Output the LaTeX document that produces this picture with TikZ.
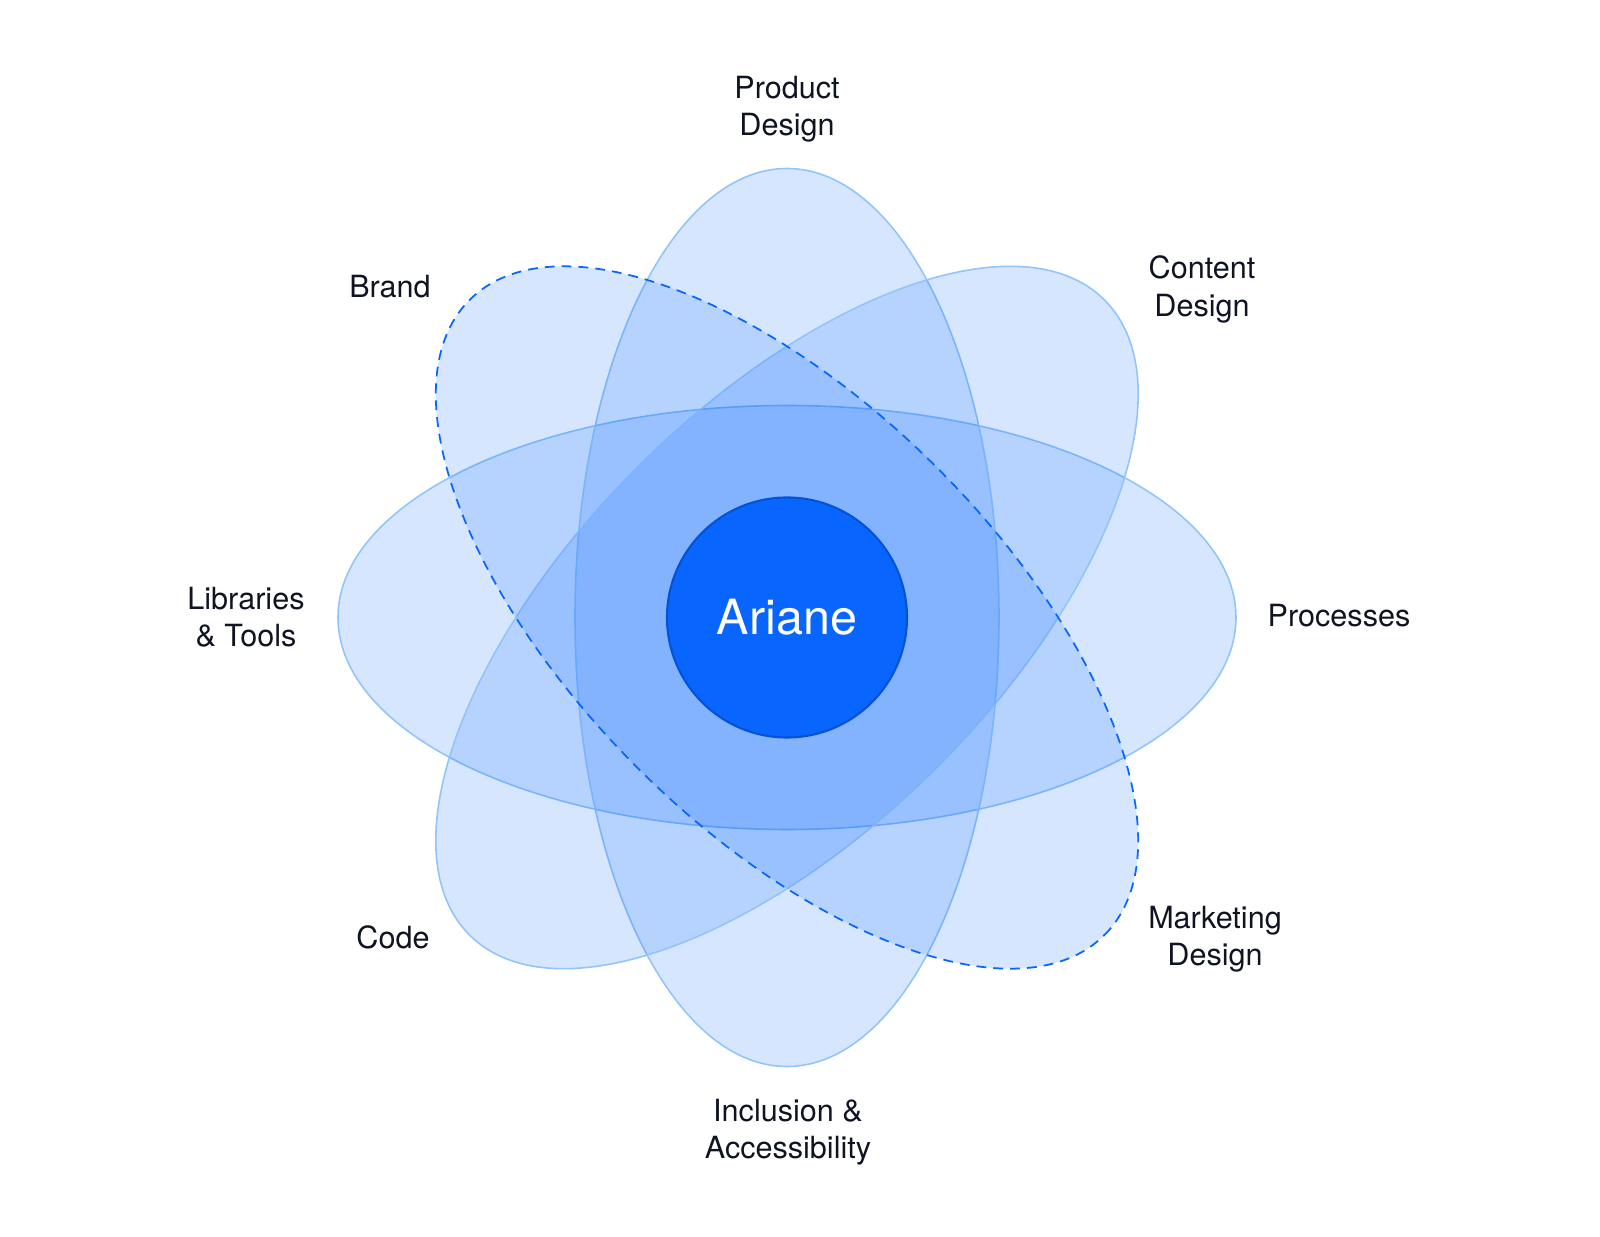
\documentclass[tikz,border=0pt]{standalone}
\usepackage{fontspec}
\setmainfont{TeX Gyre Heros}
\usetikzlibrary{shapes}
\definecolor{arblue}{RGB}{8,102,255}
\definecolor{arrim}{RGB}{6,82,214}
\definecolor{petal}{RGB}{146,196,251}
\definecolor{ink}{RGB}{16,20,34}

\begin{document}
\begin{tikzpicture}[lbl/.style={align=center,text=ink,font=\fontsize{8.7}{10.6}\selectfont}]
	\useasboundingbox (-7.87,-6.185) rectangle (8.13,6.175);

	\begin{scope}[every path/.style={fill=arblue,fill opacity=0.16,draw=petal,line width=0.45pt}]
		\draw (0,0) ellipse (4.49 and 2.12);
		\draw (0,0) ellipse (2.12 and 4.49);
		\draw[rotate=45] (0,0) ellipse (4.49 and 2.12);
		\draw[rotate=-45,draw=arblue,line width=0.5pt,dash pattern=on 2.8pt off 2pt] (0,0) ellipse (4.49 and 2.12);
	\end{scope}

	\node[circle,fill=arblue,draw=arrim,line width=0.6pt,minimum size=2.4cm,text=white,font=\fontsize{13.8}{16}\selectfont] (ariane) at (0,0) {Ariane};

	\node[lbl] (pd) at (0, 5.08) {Product\\Design};
	\node[lbl] (br) at (-3.97, 3.31) {Brand};
	\node[lbl] (cd) at (4.15, 3.28) {Content\\Design};
	\node[lbl] (lt) at (-5.41, 0.00) {Libraries\\\& Tools};
	\node[lbl] (pr) at (5.52, 0.02) {Processes};
	\node[lbl] (co) at (-3.94, -3.20) {Code};
	\node[lbl] (md) at (4.28, -3.22) {Marketing\\Design};
	\node[lbl] (ia) at (0.01, -5.15) {Inclusion \&\\Accessibility};
\end{tikzpicture}
\end{document}
